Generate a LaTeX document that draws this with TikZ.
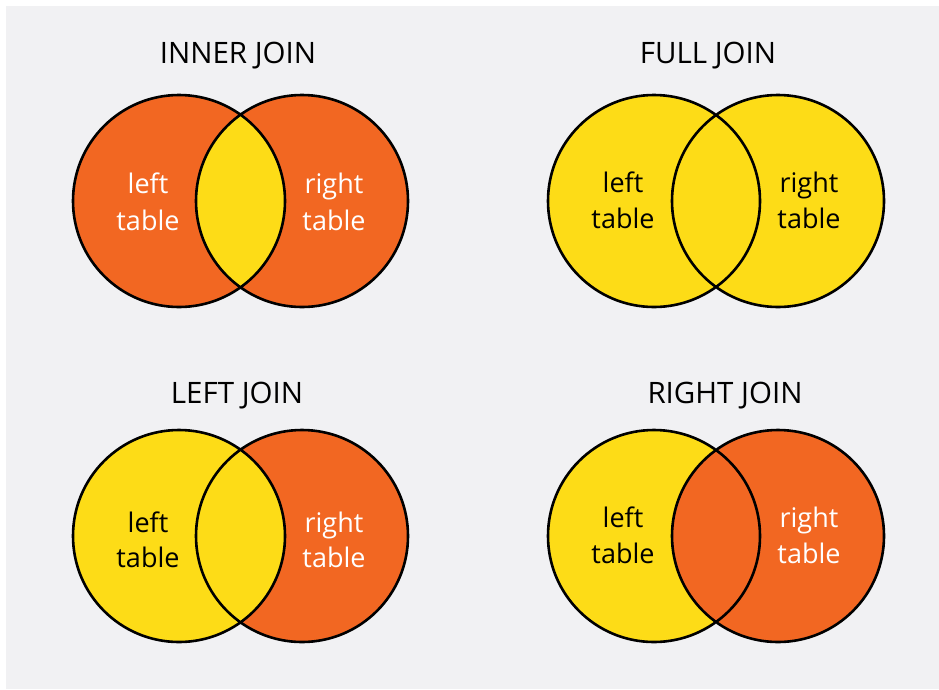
\documentclass[tikz,border=0pt]{standalone}
\usepackage{fontspec}
\setmainfont{Open Sans}
\definecolor{bg}{HTML}{F1F1F3}
\definecolor{jorange}{HTML}{F26722}
\definecolor{jyellow}{HTML}{FDDC17}
\newcommand\venndiag[6]{%
  \fill[#4] (#1,#3) circle[radius=106];
  \fill[#5] (#2,#3) circle[radius=106];
  \begin{scope}
    \clip (#1,#3) circle[radius=106];
    \fill[#6] (#2,#3) circle[radius=106];
  \end{scope}
  \draw[outl] (#1,#3) circle[radius=106] (#2,#3) circle[radius=106];
}
\begin{document}
\begin{tikzpicture}[x=1pt,y=-1pt,
  outl/.style={draw=black,line width=2.6pt},
  lbl/.style={font=\fontsize{27}{30}\selectfont,anchor=base,inner sep=0pt},
  ttl/.style={font=\fontsize{29.5}{34}\selectfont,anchor=base,inner sep=0pt,text=black}]
\useasboundingbox (0,0) rectangle (939,689);
\fill[white] (0,0) rectangle (939,689);
\fill[bg] (6,6) rectangle (939,689);

% INNER JOIN
\venndiag{179}{302}{201}{jorange}{jorange}{jyellow}
\node[ttl] (t1) at (238,63) {INNER JOIN};
\node[lbl,text=white] (a1) at (148,193) {left};
\node[lbl,text=white] (b1) at (148,230) {table};
\node[lbl,text=white] (c1) at (334,193) {right};
\node[lbl,text=white] (d1) at (334,230) {table};

% FULL JOIN
\venndiag{654}{778}{201}{jyellow}{jyellow}{jyellow}
\node[ttl] (t2) at (708,63) {FULL JOIN};
\node[lbl,text=black] (a2) at (623,192) {left};
\node[lbl,text=black] (b2) at (623,228) {table};
\node[lbl,text=black] (c2) at (809,192) {right};
\node[lbl,text=black] (d2) at (809,228) {table};

% LEFT JOIN
\venndiag{179}{302}{536}{jyellow}{jorange}{jyellow}
\node[ttl] (t3) at (237,403) {LEFT JOIN};
\node[lbl,text=black] (a3) at (148,532) {left};
\node[lbl,text=black] (b3) at (148,567) {table};
\node[lbl,text=white] (c3) at (334,532) {right};
\node[lbl,text=white] (d3) at (334,567) {table};

% RIGHT JOIN
\venndiag{654}{778}{536}{jyellow}{jorange}{jorange}
\node[ttl] (t4) at (725,403) {RIGHT JOIN};
\node[lbl,text=black] (a4) at (623,527) {left};
\node[lbl,text=black] (b4) at (623,563) {table};
\node[lbl,text=white] (c4) at (809,527) {right};
\node[lbl,text=white] (d4) at (809,563) {table};
\end{tikzpicture}
\end{document}
